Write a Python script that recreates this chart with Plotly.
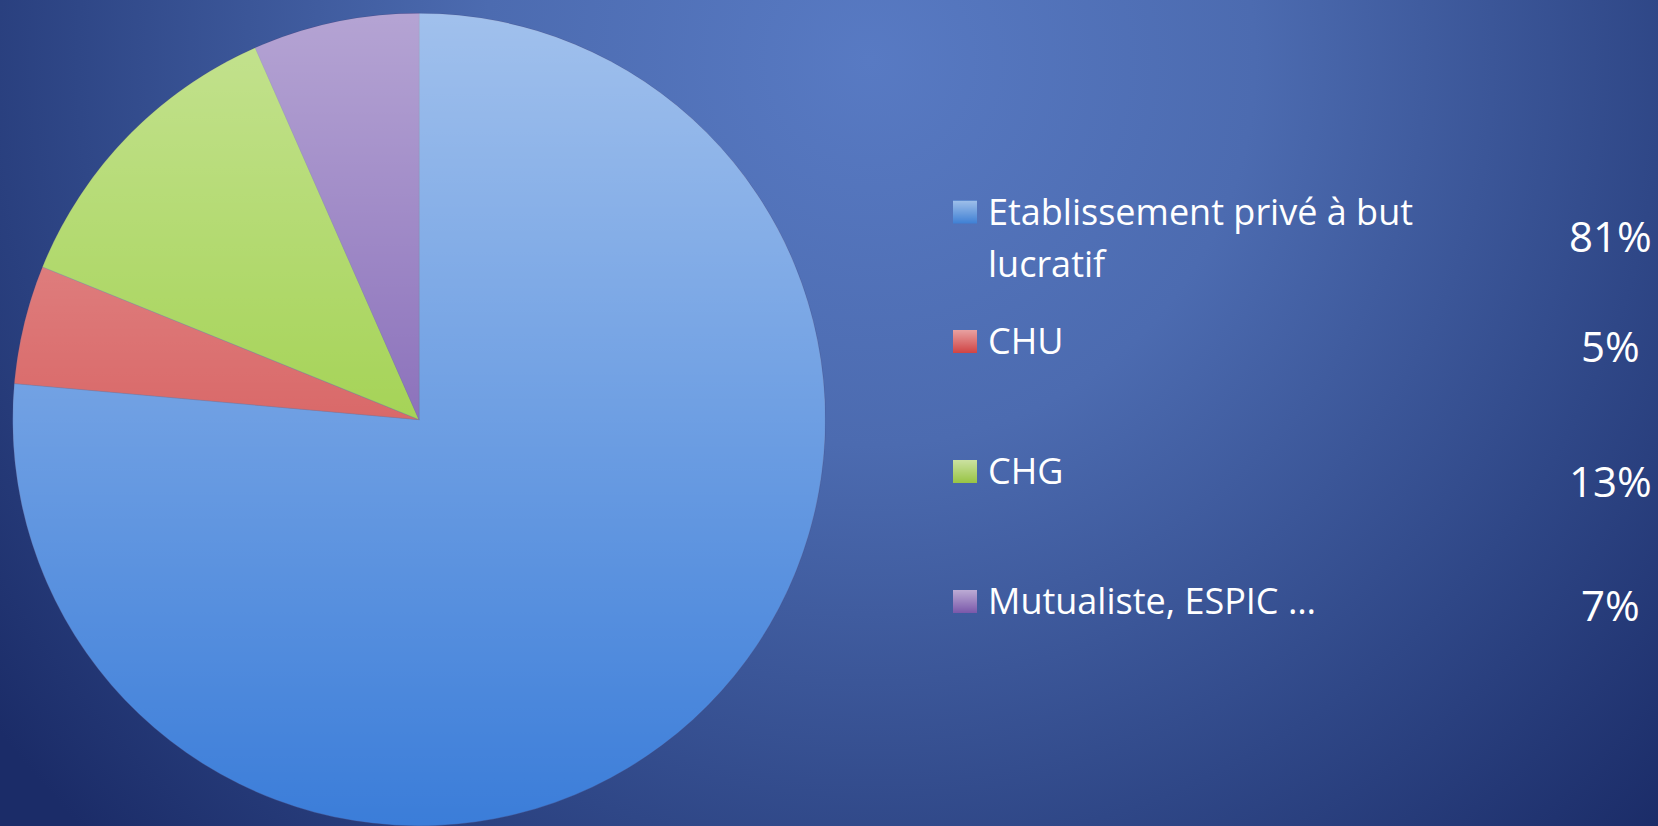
import base64
import plotly.graph_objects as go

# ---- data ----
categories = ["Etablissement privé à but lucratif", "CHU", "CHG", "Mutualiste, ESPIC …"]
values = [81, 5, 13, 7]
pct_labels = ["81%", "5%", "13%", "7%"]
slice_colors = ["#3b7dd9", "#cc3434", "#86c41c", "#6441a4"]
legend_colors = ["#3f80d4", "#d04444", "#98c444", "#7a58aa"]

W, H = 1658, 826


def svg_uri(svg):
    return "data:image/svg+xml;base64," + base64.b64encode(svg.encode()).decode()


# ---- background (radial gradient) ----
bg_svg = f'''<svg xmlns="http://www.w3.org/2000/svg" width="{W}" height="{H}" viewBox="0 0 {W} {H}" preserveAspectRatio="none">
<defs><radialGradient id="g" gradientUnits="userSpaceOnUse" cx="870" cy="60" r="1100">
<stop offset="0" stop-color="#587ac3"/>
<stop offset="0.35" stop-color="#4c6bb0"/>
<stop offset="0.72" stop-color="#2f4787"/>
<stop offset="1" stop-color="#1b2c68"/>
</radialGradient></defs>
<rect width="{W}" height="{H}" fill="url(#g)"/></svg>'''

# ---- soft vertical lighting (style only) ----
shade_circle = '''<svg xmlns="http://www.w3.org/2000/svg" width="200" height="200" viewBox="0 0 200 200" preserveAspectRatio="none">
<defs><linearGradient id="s" x1="0" y1="0" x2="0" y2="1">
<stop offset="0" stop-color="#ffffff" stop-opacity="0.52"/>
<stop offset="1" stop-color="#ffffff" stop-opacity="0"/>
</linearGradient></defs>
<circle cx="100" cy="100" r="100" fill="url(#s)"/></svg>'''

shade_rect = '''<svg xmlns="http://www.w3.org/2000/svg" width="20" height="20" viewBox="0 0 20 20" preserveAspectRatio="none">
<defs><linearGradient id="s" x1="0" y1="0" x2="0" y2="1">
<stop offset="0" stop-color="#ffffff" stop-opacity="0.5"/>
<stop offset="1" stop-color="#ffffff" stop-opacity="0"/>
</linearGradient></defs>
<rect width="20" height="20" fill="url(#s)"/></svg>'''

# pie geometry (domain in paper units)
pie_left_px, pie_top_px, pie_diam_px = 12.7, 13.3, 812.7
dom_x = [pie_left_px / W, (pie_left_px + pie_diam_px) / W]
dom_y = [0, 1 - pie_top_px / H]

fig = go.Figure()
fig.add_trace(go.Pie(
    labels=categories, values=values, sort=False, direction="clockwise", rotation=0,
    marker=dict(colors=slice_colors, line=dict(color="rgba(70,70,120,0.5)", width=0.7)),
    textinfo="none", hoverinfo="label+percent", showlegend=False,
    domain=dict(x=dom_x, y=dom_y),
))

LABEL_FONT = dict(family="Open Sans, sans-serif", size=36, color="white")
PCT_FONT = dict(family="Open Sans, sans-serif", size=42, color="white")

# legend rows: label lines with cap-centre pixel y, square centre y, percent cap-centre y
rows = [
    (["Etablissement privé à but", "lucratif"], [212, 264], 212, 238.5),
    (["CHU"], [341.5], 341.5, 348.5),
    (["CHG"], [471.5], 471.5, 483.5),
    (["Mutualiste, ESPIC …"], [601.5], 601.5, 607.5),
]

annotations = []
shapes = []
images = [
    dict(source=svg_uri(bg_svg), xref="paper", yref="paper", x=0, y=1, sizex=1, sizey=1,
         sizing="stretch", xanchor="left", yanchor="top", layer="below"),
    dict(source=svg_uri(shade_circle), xref="paper", yref="paper",
         x=dom_x[0], y=dom_y[1], sizex=dom_x[1] - dom_x[0], sizey=pie_diam_px / H,
         sizing="stretch", xanchor="left", yanchor="top", layer="above"),
]
for i, (lines, ys, sq_y, pct_y) in enumerate(rows):
    for txt, yy in zip(lines, ys):
        annotations.append(dict(
            text=txt, x=986 / W, y=1 - (yy - 1) / H, xref="paper", yref="paper",
            xanchor="left", yanchor="middle", showarrow=False, font=LABEL_FONT,
        ))
    annotations.append(dict(
        text=pct_labels[i], x=1610 / W, y=1 - (pct_y - 3) / H, xref="paper", yref="paper",
        xanchor="center", yanchor="middle", showarrow=False, font=PCT_FONT,
    ))
    shapes.append(dict(
        type="rect", xref="paper", yref="paper", layer="below",
        x0=953 / W, x1=977 / W, y0=1 - (sq_y + 11.5) / H, y1=1 - (sq_y - 11.5) / H,
        fillcolor=legend_colors[i], line=dict(width=0),
    ))
    images.append(dict(
        source=svg_uri(shade_rect), xref="paper", yref="paper",
        x=953 / W, y=1 - (sq_y - 11.5) / H, sizex=24 / W, sizey=23 / H,
        sizing="stretch", xanchor="left", yanchor="top", layer="above",
    ))

fig.update_layout(
    width=W, height=H,
    margin=dict(l=0, r=0, t=0, b=0),
    paper_bgcolor="#3f5ba0", plot_bgcolor="rgba(0,0,0,0)",
    images=images, annotations=annotations, shapes=shapes,
)

fig.write_html(
    "out.html",
    config={"displayModeBar": False},
    post_script="document.body.style.margin='0';document.body.style.overflow='hidden';",
)
